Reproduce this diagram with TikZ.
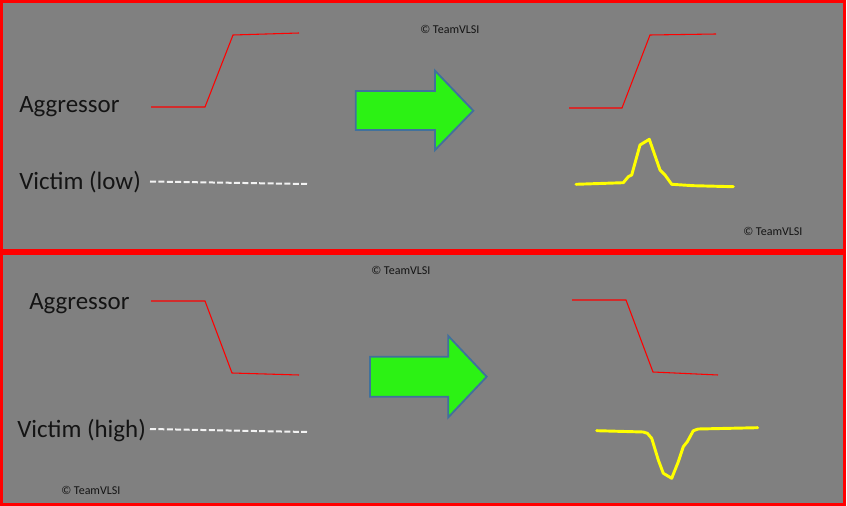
\documentclass[tikz,border=0pt]{standalone}
\usepackage{fontspec}
\setmainfont{Carlito}
\usepackage{xcolor}
\usepackage{tikz}
\definecolor{panelgray}{HTML}{808080}
\definecolor{panelred}{HTML}{FF0000}
\definecolor{arrowgreen}{HTML}{2CF214}
\definecolor{arrowedge}{HTML}{41719C}
\definecolor{noiseyellow}{HTML}{FFFF00}
\definecolor{labeltext}{HTML}{141414}
\tikzset{
  panel/.style={draw=panelred,fill=panelgray,line width=2.3pt},
  lbl/.style={anchor=base west,inner sep=0pt,text=labeltext,
              font=\fontsize{18.7}{22}\selectfont},
  wmark/.style={anchor=west,inner sep=0pt,text=labeltext,
                font=\fontsize{9}{11}\selectfont},
  aggr/.style={draw=red,line width=0.8pt},
  victim/.style={draw=white!95!black,line width=1.5pt,dash pattern=on 4.5pt off 1.8pt},
  noise/.style={draw=noiseyellow,line width=2.2pt,line join=round,line cap=round},
  bigarrow/.style={draw=arrowedge,fill=arrowgreen,line width=1.4pt,line join=miter}
}

\begin{document}
\begin{tikzpicture}[x=0.75pt,y=-0.75pt]
  \useasboundingbox (0,0) rectangle (847,506);
  \draw[panel] (1.5,1.5) rectangle (844.5,251);
  \draw[panel] (1.5,253.5) rectangle (844.5,504.5);

  \node[lbl] (aggtop) at (19,113) {Aggressor};
  \node[lbl] (victop) at (19,190) {Victim (low)};
  \node[lbl] (aggbot) at (29,310) {Aggressor};
  \node[lbl] (vicbot) at (17,437.5) {Victim (high)};

  \node[wmark] (wm1) at (420,29) {© TeamVLSI};
  \node[wmark] (wm2) at (743,231.5) {© TeamVLSI};
  \node[wmark] (wm3) at (371,270) {© TeamVLSI};
  \node[wmark] (wm4) at (61,490) {© TeamVLSI};

  \draw[aggr] (151,107) -- (205,107) -- (233,35) -- (299,33);
  \draw[aggr] (569,108) -- (622,108) -- (650,35) -- (716,34);
  \draw[aggr] (151,301) -- (205,301) -- (232,373) -- (299,375);
  \draw[aggr] (572,300) -- (626,300) -- (653,372) -- (718,375);

  \draw[victim] (150,181.5) -- (307,184);
  \draw[victim] (150,429) -- (307,432);

  \draw[noise] (576,184.3) -- (623.3,182.7) -- (628.3,176.7) -- (631.7,175)
    -- (640,145) -- (649.3,139.3) -- (660,170) -- (665,175) -- (671.7,184.3)
    -- (693.3,185.7) -- (733.3,186.7);
  \draw[noise] (596.7,430.7) -- (643.3,432) -- (647.3,433.3) -- (651.7,438.3)
    -- (658.3,460) -- (663.3,473.3) -- (671.7,478.3) -- (678.3,461.7)
    -- (683.3,446.7) -- (687.3,441.7) -- (693.3,430.7) -- (698.3,429)
    -- (757.7,427.7);

  \draw[bigarrow] (355.7,91) -- (435,91) -- (435,70.7) -- (473.3,110.7)
    -- (435,150) -- (435,130) -- (355.7,130) -- cycle;
  \draw[bigarrow] (370,356.7) -- (448.3,356.7) -- (448.3,336) -- (486.7,376.7)
    -- (448.3,417.3) -- (448.3,396.7) -- (370,396.7) -- cycle;
\end{tikzpicture}
\end{document}
